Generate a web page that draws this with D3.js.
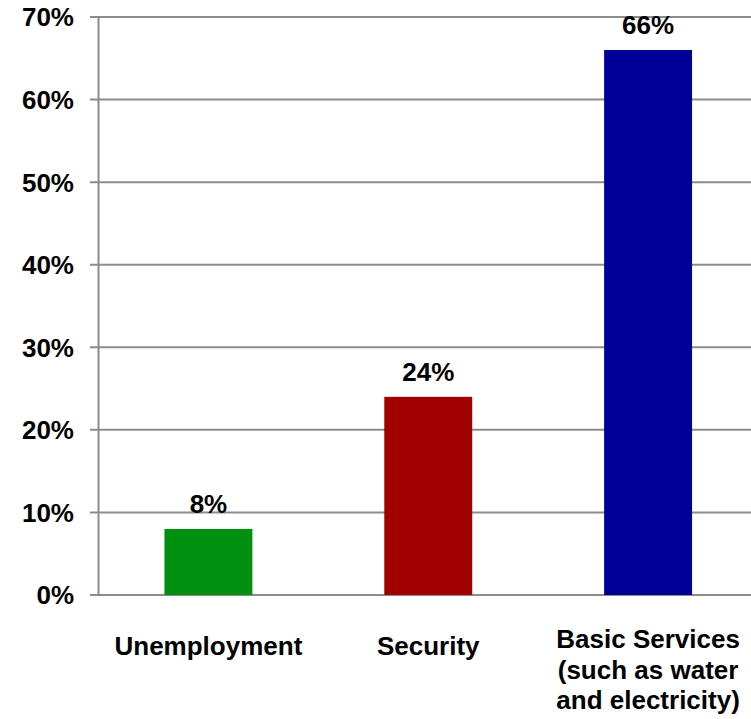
<!DOCTYPE html>
<html>
<head>
<meta charset="utf-8">
<script src="https://cdn.jsdelivr.net/npm/d3@7"></script>
<style>
  html, body { margin: 0; padding: 0; background: #fff; }
  svg { display: block; }
  text { font-family: "Liberation Sans", Arial, sans-serif; font-weight: bold; fill: #000; }
</style>
</head>
<body>
<svg id="chart" width="751" height="719"></svg>
<script>
const categories = ["Unemployment", "Security", "Basic Services\n(such as water\nand electricity)"];
const values = [0.08, 0.24, 0.66];
const barColors = ["#009010", "#A00000", "#000099"];
const yTicks = [0, 0.1, 0.2, 0.3, 0.4, 0.5, 0.6, 0.7];

(function () {
const svg = d3.select("#chart");
const W = 751;
const plotLeft = 98.5, plotRight = 758, plotTop = 17, plotBottom = 595;
const gridColor = "#8c8c8c";

const x = d3.scaleBand().domain(categories).range([plotLeft, plotRight]).padding(0);
const y = d3.scaleLinear().domain([0, 0.7]).range([plotBottom, plotTop]);
const fmt = d3.format(".0%");

// gridlines
svg.append("g").selectAll("line").data(yTicks).join("line")
  .attr("x1", plotLeft - 8.5).attr("x2", W)
  .attr("y1", d => y(d)).attr("y2", d => y(d))
  .attr("stroke", gridColor).attr("stroke-width", 2);

// y axis line
svg.append("line")
  .attr("x1", plotLeft).attr("x2", plotLeft)
  .attr("y1", plotTop).attr("y2", plotBottom)
  .attr("stroke", gridColor).attr("stroke-width", 2);

// y tick labels
svg.append("g").selectAll("text").data(yTicks).join("text")
  .attr("x", 74).attr("y", d => y(d))
  .attr("dy", "0.36em")
  .attr("text-anchor", "end")
  .attr("font-size", 26)
  .text(d => fmt(d));

// bars
const bw = x.bandwidth() * 0.4;
svg.append("g").selectAll("rect").data(values).join("rect")
  .attr("x", (d, i) => x(categories[i]) + x.bandwidth() / 2 - bw / 2)
  .attr("width", bw)
  .attr("y", d => y(d))
  .attr("height", d => y(0) - y(d))
  .attr("fill", (d, i) => barColors[i]);

// value labels
svg.append("g").selectAll("text").data(values).join("text")
  .attr("x", (d, i) => x(categories[i]) + x.bandwidth() / 2)
  .attr("y", d => y(d) - 16)
  .attr("text-anchor", "middle")
  .attr("font-size", 26)
  .text(d => fmt(d));

// category labels
const lineH = 30.5;
const catG = svg.append("g");
categories.forEach((c, i) => {
  const lines = c.split("\n");
  const t = catG.append("text")
    .attr("x", x(c) + x.bandwidth() / 2)
    .attr("y", lines.length > 1 ? 648 : 655)
    .attr("text-anchor", "middle")
    .attr("font-size", 26);
  lines.forEach((l, j) => {
    t.append("tspan")
      .attr("x", x(c) + x.bandwidth() / 2)
      .attr("dy", j === 0 ? 0 : lineH)
      .text(l);
  });
});
})();
</script>
</body>
</html>
